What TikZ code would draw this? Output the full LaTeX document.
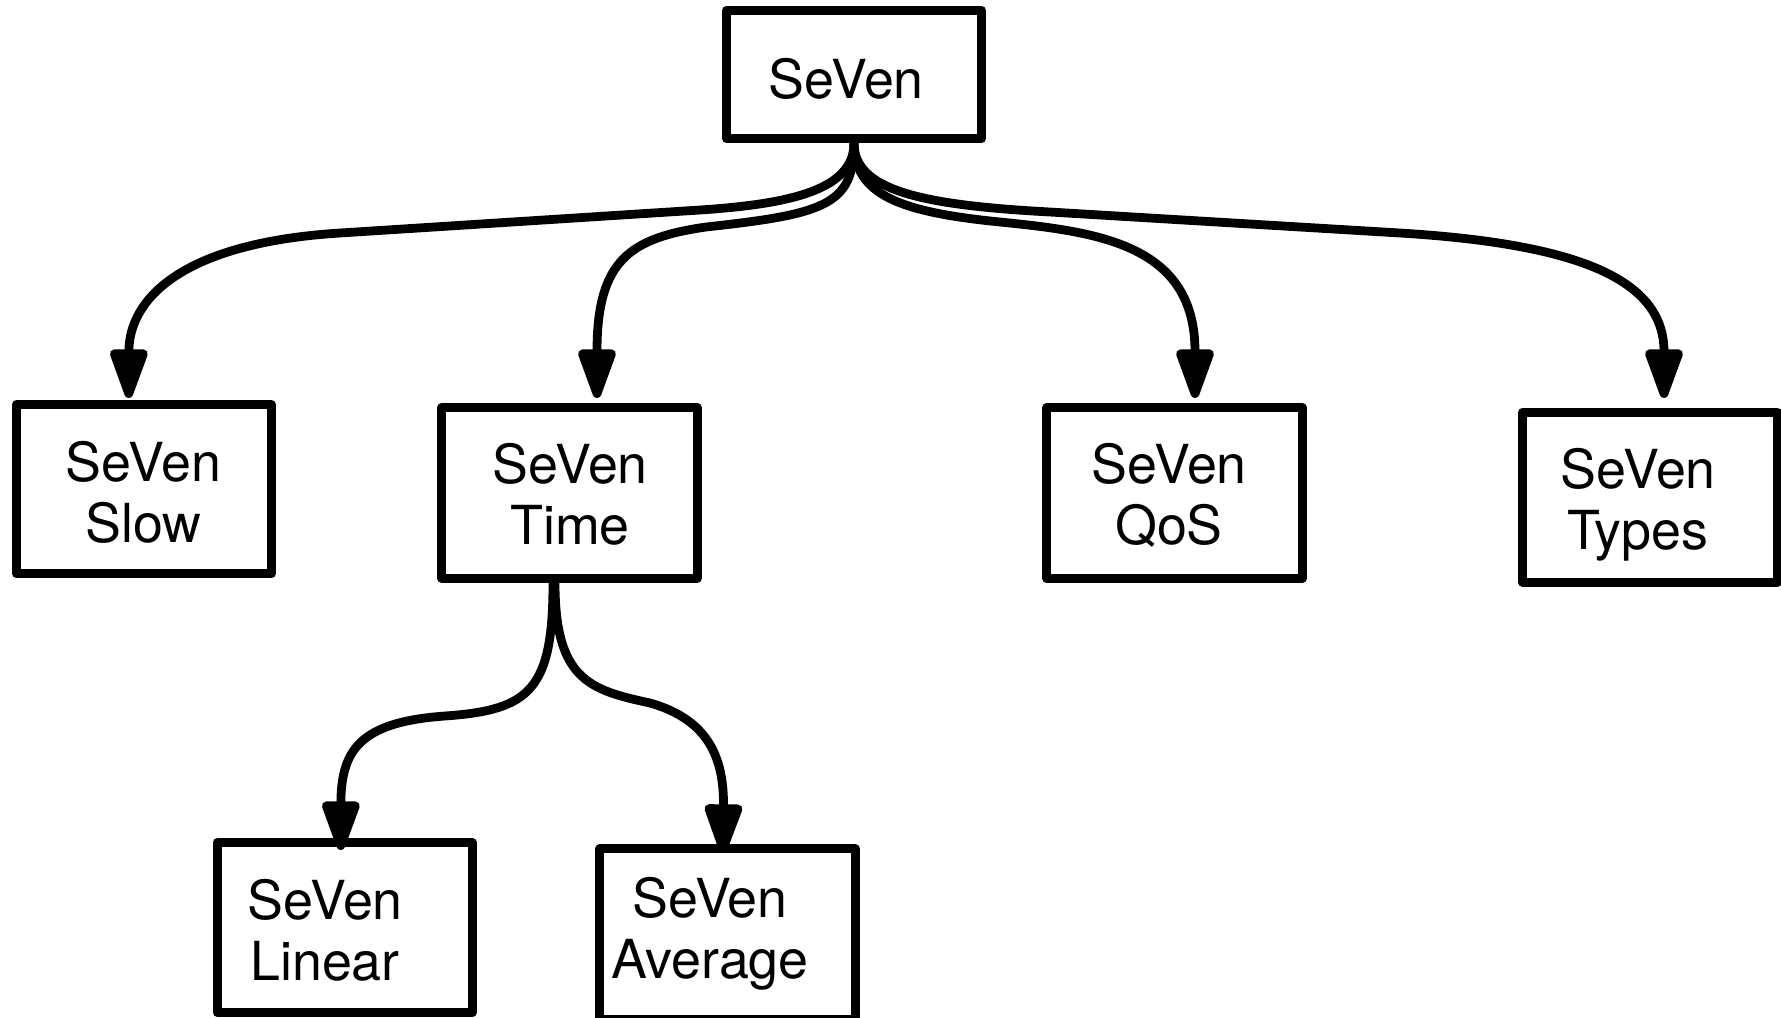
\documentclass[tikz,border=0pt]{standalone}
\usepackage{fontspec}
\setmainfont{TeX Gyre Heros}
\usetikzlibrary{arrows.meta,calc}
\begin{document}
\begin{tikzpicture}[x=0.01cm,y=-0.01cm,
  box/.style={draw=black,line width=2.55pt,line join=round,minimum width=2.55cm,
    minimum height=1.70cm,inner sep=0pt},
  txt/.style={align=center,inner sep=0pt,anchor=north,
    font=\fontsize{15.3pt}{17.3pt}\selectfont},
  link/.style={line width=2.5pt,line cap=round,
    -{Triangle[length=0.58cm,width=0.39cm,round]}},
]
\useasboundingbox (0,0) rectangle (1781,1017);

% boxes
\node[box,minimum height=1.28cm] (root) at (854,74.5) {};
\node[box,minimum height=1.69cm] (slow) at (143.75,489) {};
\node[box,minimum height=1.705cm] (time) at (569.5,492.75) {};
\node[box,minimum height=1.71cm] (qos) at (1174.5,493) {};
\node[box,minimum height=1.695cm] (types) at (1650,497.25) {};
\node[box] (linear) at (344.75,927.5) {};
\node[box] (average) at (727.5,934) {};

% box texts
\node[txt] (root-t) at (846,57.5) {SeVen};
\node[txt] (slow-t) at (143.75,441) {SeVen\\Slow};
\node[txt] (time-t) at (570,443) {SeVen\\Time};
\node[txt] (qos-t) at (1169,443) {SeVen\\QoS};
\node[txt] (types-t) at (1638,448) {SeVen\\Types};
\node[txt] (linear-t) at (325,879) {SeVen\\Linear};
\node[txt] (average-t) at (710,876.5) {SeVen\\Average};

% connectors from the root
\draw[link] (root.south) .. controls (854,190) and (790,204) .. (700,210)
  -- (340,233) .. controls (180,243) and (129,300) .. ($(slow.north)+(-15,-2)$);
\draw[link] (root.south) .. controls (854,205) and (825,214) .. (706,227)
  .. controls (630,238) and (597,260) .. ($(time.north)+(27.5,-5)$);
\draw[link] (root.south) .. controls (854,195) and (900,212) .. (1000,222)
  .. controls (1100,232) and (1195,245) .. ($(qos.north)+(20.5,-5)$);
\draw[link] (root.south) .. controls (854,190) and (920,205) .. (1050,212)
  -- (1400,233) .. controls (1580,244) and (1664,280) .. ($(types.north)+(14,-10)$);

% connectors from Time
\draw[link] ($(time.south)+(-16.5,0)$) .. controls (553,690) and (530,710) .. (445,716)
  .. controls (360,722) and (341,750) .. ($(linear.north)+(-4,12)$);
\draw[link] ($(time.south)+(-14.5,0)$) .. controls (555,680) and (590,690) .. (650,703)
  .. controls (710,720) and (724,760) .. ($(average.north)+(-4.5,8.5)$);
\end{tikzpicture}
\end{document}
